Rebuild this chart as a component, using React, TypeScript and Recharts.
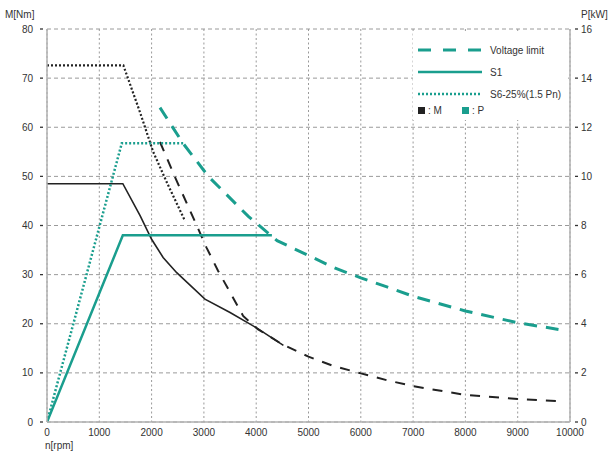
import React from 'react';
import { LineChart, Line, XAxis, YAxis, CartesianGrid, Legend, Label } from 'recharts';

const TEAL = '#1a9e8e';
const BLACK = '#222222';
const GRID = '#9a9a9a';
const AXIS = '#b0b0b0';
const TEXT = '#333333';
const FONT = '"Liberation Sans", Arial, Helvetica, sans-serif';

// ticks
const rpmTicks = [0, 1000, 2000, 3000, 4000, 5000, 6000, 7000, 8000, 9000, 10000];
const torqueTicks = [0, 10, 20, 30, 40, 50, 60, 70, 80];
const powerTicks = [0, 2, 4, 6, 8, 10, 12, 14, 16];

// Torque S1 (black solid)
const torqueS1Rpm = [0, 1450, 1780, 2000, 2220, 2480, 3020, 3500, 4000, 4520];
const torqueS1Nm = [48.5, 48.5, 42, 37.2, 33.5, 30.4, 25, 22.3, 19.2, 15.6];

// Torque S6 (black dotted)
const torqueS6Rpm = [0, 1460, 1780, 2030, 2290, 2640];
const torqueS6Nm = [72.6, 72.6, 63, 55, 48.8, 40.9];

// Torque voltage limit (black dashed)
const torqueVlRpm = [2160, 2450, 2850, 3050, 3270, 3500, 3750, 4030, 4500, 5000, 5450, 6000, 6500, 7000, 8000, 9000, 9800];
const torqueVlNm = [57, 49.8, 40.3, 35.5, 30.8, 26.4, 21.6, 18.9, 15.8, 13.3, 11.5, 9.9, 8.5, 7.3, 5.5, 4.7, 4.25];

// Power S1 (teal solid)
const powerS1Rpm = [0, 1450, 4300];
const powerS1Kw = [0, 7.6, 7.6];

// Power S6 (teal dotted)
const powerS6Rpm = [0, 1430, 2640];
const powerS6Kw = [0, 11.35, 11.35];

// Power voltage limit (teal dashed)
const powerVlRpm = [2160, 2600, 3085, 3850, 4400, 5000, 5500, 6000, 6500, 7000, 8000, 9000, 9780];
const powerVlKw = [12.8, 11.35, 10.0, 8.37, 7.38, 6.78, 6.27, 5.87, 5.5, 5.12, 4.52, 4.04, 3.77];

const legendLabels = ['Voltage limit', 'S1', 'S6-25%(1.5 Pn)'];
const legendKeys = [': M', ': P'];

const build = (xs: number[], ys: number[]) => xs.map((rpm, i) => ({ rpm, v: ys[i] }));

const torqueS1 = build(torqueS1Rpm, torqueS1Nm);
const torqueS6 = build(torqueS6Rpm, torqueS6Nm);
const torqueVl = build(torqueVlRpm, torqueVlNm);
const powerS1 = build(powerS1Rpm, powerS1Kw);
const powerS6 = build(powerS6Rpm, powerS6Kw);
const powerVl = build(powerVlRpm, powerVlKw);

const LeftTick = (props: any) => {
  const { x, y, payload } = props;
  return (
    <g>
      <line x1={x - 7} x2={x - 4} y1={y} y2={y} stroke={TEXT} strokeWidth={1.3} />
      <text x={x - 14} y={y} dy="0.35em" textAnchor="end" fontSize={10} fill={TEXT} fontFamily={FONT}>
        {payload.value}
      </text>
    </g>
  );
};

const RightTick = (props: any) => {
  const { x, y, payload } = props;
  return (
    <g>
      <line x1={x + 5} x2={x + 8} y1={y} y2={y} stroke={TEXT} strokeWidth={1.3} />
      <text x={x + 11} y={y} dy="0.35em" textAnchor="start" fontSize={10} fill={TEXT} fontFamily={FONT}>
        {payload.value}
      </text>
    </g>
  );
};

const BottomTick = (props: any) => {
  const { x, y, payload } = props;
  return (
    <text x={x} y={y + 14} textAnchor="middle" fontSize={10} fill={TEXT} fontFamily={FONT}>
      {payload.value}
    </text>
  );
};

const LegendBox = () => (
  <div style={{ width: 155, height: 89, background: '#ffffff' }}>
    <svg width={155} height={89} style={{ display: 'block' }}>
      <line x1={5} x2={70} y1={19} y2={19} stroke={TEAL} strokeWidth={3} strokeDasharray="13 12" />
      <text x={77} y={19} dy="0.35em" fontSize={10} fill={TEXT} fontFamily={FONT}>{legendLabels[0]}</text>
      <line x1={5} x2={69} y1={41} y2={41} stroke={TEAL} strokeWidth={2.5} />
      <text x={77} y={41} dy="0.35em" fontSize={10} fill={TEXT} fontFamily={FONT}>{legendLabels[1]}</text>
      <line x1={5} x2={69} y1={63} y2={63} stroke={TEAL} strokeWidth={2.5} strokeDasharray="2 2" />
      <text x={77} y={63} dy="0.35em" fontSize={10} fill={TEXT} fontFamily={FONT}>{legendLabels[2]}</text>
      <rect x={5} y={76} width={7} height={7} fill={BLACK} />
      <text x={15} y={79.5} dy="0.35em" fontSize={10} fill={TEXT} fontFamily={FONT}>{legendKeys[0]}</text>
      <rect x={49} y={76} width={7} height={7} fill={TEAL} />
      <text x={59} y={79.5} dy="0.35em" fontSize={10} fill={TEXT} fontFamily={FONT}>{legendKeys[1]}</text>
    </svg>
  </div>
);

export default function App() {
  return (
    <div style={{ position: 'absolute', left: 0, top: 0, width: 611, height: 455, background: '#fff' }}>
      <LineChart width={611} height={455} margin={{ top: 29, right: 0, bottom: 0, left: 0 }}>
        <CartesianGrid
          yAxisId="left"
          vertical={false}
          stroke={GRID}
          strokeDasharray="4 3"
          horizontalValues={torqueTicks}
        />
        <CartesianGrid
          yAxisId="left"
          horizontal={false}
          stroke={GRID}
          strokeDasharray="2 2.5"
          verticalValues={rpmTicks}
        />
        <XAxis
          dataKey="rpm"
          type="number"
          domain={[0, 10000]}
          ticks={rpmTicks}
          height={33}
          tickSize={0}
          tickMargin={0}
          tickLine={false}
          tick={<BottomTick />}
          axisLine={{ stroke: AXIS, strokeWidth: 1.5 }}
          allowDataOverflow
        >
          <Label
            content={() => (
              <text x={45} y={449} fontSize={10} fill={TEXT} fontFamily={FONT}>n[rpm]</text>
            )}
          />
        </XAxis>
        <YAxis
          yAxisId="left"
          type="number"
          domain={[0, 80]}
          ticks={torqueTicks}
          width={47}
          tickSize={0}
          tickMargin={0}
          tickLine={false}
          tick={<LeftTick />}
          axisLine={{ stroke: AXIS, strokeWidth: 1.5 }}
        >
          <Label
            content={() => (
              <text x={5} y={18} fontSize={10} fill={TEXT} fontFamily={FONT}>M[Nm]</text>
            )}
          />
        </YAxis>
        <YAxis
          yAxisId="right"
          orientation="right"
          type="number"
          domain={[0, 16]}
          ticks={powerTicks}
          width={41}
          tickSize={0}
          tickMargin={0}
          tickLine={false}
          tick={<RightTick />}
          axisLine={{ stroke: AXIS, strokeWidth: 1.5 }}
        >
          <Label
            content={() => (
              <text x={581} y={18} fontSize={10} fill={TEXT} fontFamily={FONT}>P[kW]</text>
            )}
          />
        </YAxis>

        <Line yAxisId="left" data={torqueS1} dataKey="v" type="linear" stroke={BLACK} strokeWidth={1.6} dot={false} isAnimationActive={false} />
        <Line yAxisId="left" data={torqueS6} dataKey="v" type="linear" stroke={BLACK} strokeWidth={2.2} strokeDasharray="2 2" dot={false} isAnimationActive={false} />
        <Line yAxisId="left" data={torqueVl} dataKey="v" type="linear" stroke={BLACK} strokeWidth={2} strokeDasharray="10 9" dot={false} isAnimationActive={false} />
        <Line yAxisId="right" data={powerS1} dataKey="v" type="linear" stroke={TEAL} strokeWidth={2.5} dot={false} isAnimationActive={false} />
        <Line yAxisId="right" data={powerS6} dataKey="v" type="linear" stroke={TEAL} strokeWidth={2.5} strokeDasharray="2 2" dot={false} isAnimationActive={false} />
        <Line yAxisId="right" data={powerVl} dataKey="v" type="linear" stroke={TEAL} strokeWidth={3} strokeDasharray="13 9" dot={false} isAnimationActive={false} />

        <Legend
          layout="vertical"
          align="center"
          verticalAlign="middle"
          content={<LegendBox />}
          wrapperStyle={{ position: 'absolute', left: 413, top: 31, width: 155, height: 89, margin: 0, padding: 0 }}
        />
      </LineChart>
    </div>
  );
}
